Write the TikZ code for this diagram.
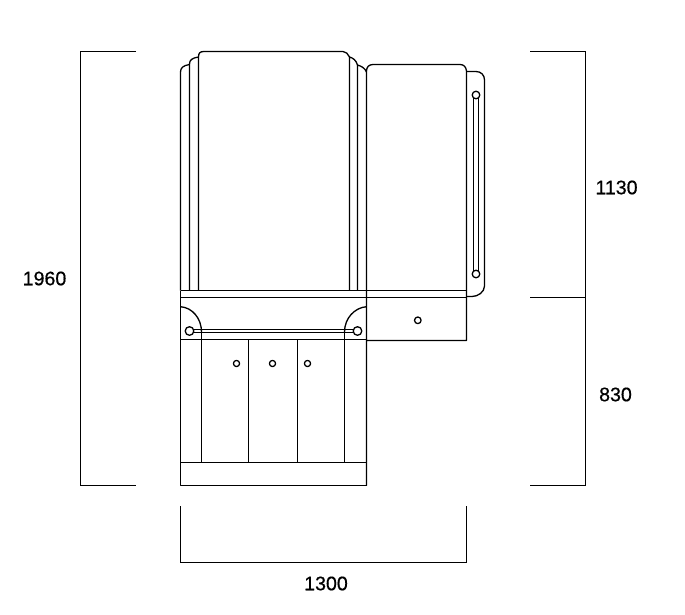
\documentclass[tikz,border=0pt]{standalone}
\usepackage{fontspec}
\setmainfont{Liberation Sans}
\newfontfamily\dimfont[FakeBold=0.6]{Liberation Sans}
\newcommand\cabLeft{180.5}
\newcommand\cabRight{366.5}
\newcommand\doorRight{466.5}
\newcommand\cabBottom{485.5}
\newcommand\dimLeft{80.5}
\newcommand\dimRight{585.5}
\newcommand\dimBottom{562.5}
\tikzset{
	part/.style={line width=1.3pt, line join=round},
	dimline/.style={line width=1.1pt},
	dimtext/.style={font=\dimfont\fontsize{19.6}{20}\selectfont, text=black, inner sep=0pt, draw=none},
}

\begin{document}
\begin{tikzpicture}[x=1pt,y=-1pt]
	\useasboundingbox (0,0) rectangle (685,614);

	% upper door with stepped top
	\draw[part] (\cabLeft,290.5) -- (\cabLeft,72) .. controls (\cabLeft,68) and (183,65.5) .. (189.5,64.5);
	\draw[part] (189.5,290.5) -- (189.5,64) .. controls (189.5,60) and (192,58) .. (198.5,57);
	\draw[part] (198.5,290.5) -- (198.5,57) .. controls (198.5,53) and (200,51.5) .. (204,51.5)
		-- (343,51.5) .. controls (346,51.5) and (348,54) .. (349.5,57);
	\draw[part] (349.5,290.5) -- (349.5,57) .. controls (353,58) and (356,60) .. (357.5,65);
	\draw[part] (357.5,290.5) -- (357.5,65) .. controls (361,66) and (365,68) .. (\cabRight,72);

	% right door and handle panel
	\draw[part] (\cabRight,\cabBottom) -- (\cabRight,71) .. controls (\cabRight,67) and (369,64.5) .. (373,64.5)
		-- (460,64.5) .. controls (464,64.5) and (466,67) .. (\doorRight,71) -- (\doorRight,340.5) -- (\cabRight,340.5);
	\draw[part] (\doorRight,71.5) -- (476,71.5) .. controls (481,71.5) and (484.5,75) .. (484.5,80)
		-- (484.5,286) .. controls (484.5,292) and (478,296.5) .. (472,296.5) -- (\doorRight,296.5);
	\draw[part] (473.5,98) -- (473.5,271);
	\draw[part] (478.5,98) -- (478.5,271);
	\foreach \y in {95,274}{
		\draw[part] (476,\y) circle (3.8);
	}

	% drawer band
	\draw[part] (\cabLeft,290.5) -- (\doorRight,290.5);
	\draw[part] (\cabLeft,297.5) -- (\doorRight,297.5);
	\draw[part] (\cabLeft,339.5) -- (\cabRight,339.5);
	\draw[part] (\cabLeft,290.5) -- (\cabLeft,\cabBottom) -- (\cabRight,\cabBottom);
	\draw[part] (\cabLeft,306.7) .. controls (192,307.5) and (201.5,318) .. (201.5,332);
	\draw[part] (\cabRight,306.7) .. controls (355,307.5) and (344.5,318) .. (344.5,332);
	\draw[part] (193,329.5) -- (354,329.5);
	\draw[part] (193,332.5) -- (354,332.5);
	\foreach \x in {189.5,357.5}{
		\draw[part,fill=white] (\x,331) circle (4.3);
	}
	\draw[part] (417.8,320.3) circle (3.3);

	% lower doors and plinth
	\foreach \x in {201.5,344.5}{
		\draw[part] (\x,332.5) -- (\x,462.5);
	}
	\foreach \x in {248.5,297.5}{
		\draw[part] (\x,339.5) -- (\x,462.5);
	}
	\draw[part] (\cabLeft,462.5) -- (\cabRight,462.5);
	\foreach \x in {236.5,272.5,307.5}{
		\draw[part] (\x,363.5) circle (3.1);
	}

	% dimensions
	\draw[dimline] (136,51.5) -- (\dimLeft,51.5) -- (\dimLeft,\cabBottom) -- (136,\cabBottom);
	\draw[dimline] (530,51.5) -- (\dimRight,51.5) -- (\dimRight,\cabBottom) -- (530,\cabBottom);
	\draw[dimline] (530,297.5) -- (\dimRight,297.5);
	\draw[dimline] (\cabLeft,506) -- (\cabLeft,\dimBottom) -- (\doorRight,\dimBottom) -- (\doorRight,506);

	\node[dimtext] (dimHeight) at (44.5,278.5){1960};
	\node[dimtext] (dimUpper) at (616.5,187.5){1130};
	\node[dimtext] (dimLower) at (615.5,394.5){830};
	\node[dimtext] (dimWidth) at (326,583.5){1300};
\end{tikzpicture}
\end{document}
